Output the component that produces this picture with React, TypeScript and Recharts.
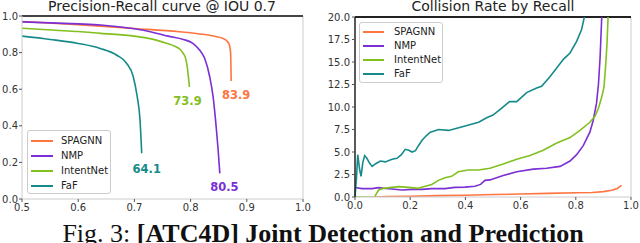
import { LineChart, Line, XAxis, YAxis, Legend, ReferenceLine } from 'recharts';

// [recall, precision] per method
const spagnnPR = [[0.5, 0.97], [0.6, 0.953], [0.7, 0.932], [0.78, 0.914], [0.816, 0.902], [0.846, 0.887], [0.857, 0.878], [0.865, 0.862], [0.869, 0.842], [0.8712, 0.8], [0.8718, 0.72], [0.8722, 0.645]];
const nmpPR = [[0.5, 0.968], [0.6, 0.957], [0.64, 0.951], [0.7, 0.93], [0.73, 0.913], [0.76, 0.89], [0.787, 0.872], [0.804, 0.851], [0.816, 0.814], [0.825, 0.769], [0.834, 0.668], [0.84, 0.559], [0.846, 0.377], [0.849, 0.268], [0.852, 0.14]];
const intentNetPR = [[0.5, 0.933], [0.56, 0.922], [0.6, 0.915], [0.64, 0.905], [0.7, 0.89], [0.73, 0.875], [0.757, 0.851], [0.772, 0.835], [0.781, 0.818], [0.787, 0.795], [0.791, 0.77], [0.794, 0.723], [0.796, 0.67], [0.798, 0.612]];
const fafPR = [[0.5, 0.89], [0.55, 0.872], [0.6, 0.85], [0.639, 0.823], [0.668, 0.787], [0.686, 0.742], [0.698, 0.668], [0.705, 0.559], [0.71, 0.432], [0.713, 0.25]];

// [recall, collision rate]
const spagnnCR = [[0.07, 0], [0.12, 0.05], [0.2, 0.08], [0.3, 0.15], [0.4, 0.2], [0.5, 0.27], [0.6, 0.33], [0.7, 0.4], [0.8, 0.47], [0.86, 0.5], [0.9, 0.6], [0.93, 0.75], [0.95, 0.95], [0.966, 1.3]];
const nmpCR = [[0, 1.05], [0.025, 0.93], [0.062, 0.93], [0.086, 1.04], [0.11, 0.95], [0.134, 0.89], [0.17, 0.78], [0.207, 0.85], [0.243, 0.85], [0.278, 0.93], [0.326, 0.93], [0.362, 1.07], [0.398, 1.1], [0.435, 1.2], [0.455, 1.4], [0.471, 1.85], [0.489, 1.9], [0.537, 2.4], [0.586, 2.8], [0.646, 3.1], [0.694, 3.2], [0.743, 3.4], [0.779, 4.0], [0.803, 4.7], [0.827, 5.7], [0.851, 7.2], [0.863, 8.5], [0.875, 10.4], [0.882, 12.5], [0.888, 15.5], [0.894, 20]];
const intentNetCR = [[0, 0], [0.071, 0], [0.078, 0.4], [0.086, 0.78], [0.104, 0.96], [0.134, 1.07], [0.158, 1.15], [0.194, 1.07], [0.23, 0.96], [0.248, 1.15], [0.278, 1.4], [0.302, 1.85], [0.326, 2.15], [0.35, 2.3], [0.374, 2.8], [0.41, 3.0], [0.447, 3.0], [0.489, 3.2], [0.537, 3.67], [0.586, 4.2], [0.634, 4.6], [0.682, 5.2], [0.731, 6.0], [0.779, 6.6], [0.815, 7.4], [0.851, 8.3], [0.87, 9.0], [0.882, 9.85], [0.894, 11.1], [0.902, 12.2], [0.908, 14.5], [0.913, 17], [0.917, 20]];
const fafCR = [[0, 0], [0.005, 2], [0.01, 4.7], [0.017, 3.0], [0.022, 2.3], [0.028, 3.8], [0.035, 4.6], [0.043, 4.3], [0.052, 3.8], [0.062, 3.4], [0.075, 3.7], [0.092, 4.0], [0.11, 3.9], [0.134, 4.2], [0.152, 4.3], [0.168, 4.7], [0.182, 5.3], [0.195, 5.2], [0.207, 5.0], [0.219, 5.15], [0.23, 5.7], [0.243, 6.3], [0.258, 6.8], [0.273, 7.2], [0.303, 7.5], [0.339, 7.4], [0.376, 7.7], [0.412, 8.0], [0.448, 8.3], [0.477, 8.8], [0.5, 9.1], [0.525, 9.7], [0.56, 10.6], [0.586, 10.6], [0.622, 11.6], [0.658, 12.1], [0.676, 12.3], [0.707, 13.4], [0.73, 14.3], [0.755, 15.3], [0.779, 16.0], [0.803, 17.3], [0.821, 18.6], [0.831, 20]];

const methods = ['SPAGNN', 'NMP', 'IntentNet', 'FaF'];
const apLabels = ['83.9', '80.5', '73.9', '64.1'];
const prTicksX = [0.5, 0.6, 0.7, 0.8, 0.9, 1.0];
const prTicksY = [0, 0.2, 0.4, 0.6, 0.8, 1.0];
const crTicksX = [0, 0.2, 0.4, 0.6, 0.8, 1.0];
const crTicksY = [0, 2.5, 5, 7.5, 10, 12.5, 15, 17.5, 20];

const COLORS = ['#ff7540', '#7b2fd4', '#82c020', '#168a8a'];
const labelOffsets = [[5, 18.5], [4.5, 17.7], [-2, 18.3], [5, 20]];

const toPts = (arr: number[][]) => arr.map(([x, y]) => ({ x, y }));
const prSeries = [spagnnPR, nmpPR, intentNetPR, fafPR].map(toPts);
const crSeries = [spagnnCR, nmpCR, intentNetCR, fafCR].map(toPts);

const tickFont = { fontFamily: 'DejaVu Sans', fontSize: 10, fill: '#333' };

// legend rows kept in the methods order, whatever order recharts hands them over
const LegendBox = ({ payload, rowH, padTop, lineW, textX, width, height, fontSize }: any) => {
  const items = methods.map((m) => (payload || []).find((p: any) => p.value === m)).filter(Boolean);
  return (
    <div style={{ width, height, boxSizing: 'border-box', border: '1px solid #ccc', borderRadius: 3, background: 'rgba(255,255,255,0.85)', position: 'relative', fontFamily: 'DejaVu Sans', fontSize, color: '#222' }}>
      {items.map((p: any, i: number) => (
        <div key={p.value} style={{ position: 'absolute', left: 0, top: padTop + i * rowH - 7, height: 14, display: 'flex', alignItems: 'center' }}>
          <svg width={textX} height={14} style={{ display: 'block' }}>
            <line x1={3} x2={3 + lineW} y1={7} y2={7} stroke={p.color} strokeWidth={2} />
          </svg>
          <span style={{ lineHeight: '14px', whiteSpace: 'nowrap' }}>{p.value}</span>
        </div>
      ))}
    </div>
  );
};

const endLabel = (i: number) => (props: any) => {
  const { x, y, index } = props;
  if (index !== prSeries[i].length - 1) return <g key={`l-${i}-${index}`} />;
  return (
    <text key={`l-${i}-${index}`} x={x + labelOffsets[i][0]} y={y + labelOffsets[i][1]} textAnchor="middle" fill={COLORS[i]} fontFamily="DejaVu Sans" fontSize={11.5} fontWeight="bold">
      {apLabels[i]}
    </text>
  );
};

export default function App() {
  return (
    <div style={{ position: 'absolute', left: 0, top: 0, width: 640, height: 243, background: '#fff', overflow: 'hidden' }}>
      <div style={{ position: 'absolute', left: 0, top: 0 }}>
        <LineChart width={320} height={243} margin={{ top: 16, right: 17, bottom: 24, left: 0 }}>
          <XAxis dataKey="x" type="number" domain={[0.5, 1]} ticks={prTicksX} tickFormatter={(v: number) => v.toFixed(1)} height={20} tick={tickFont} tickSize={3} tickMargin={2} axisLine={{ stroke: '#ccc' }} tickLine={{ stroke: '#555' }} allowDataOverflow />
          <YAxis type="number" domain={[0, 1]} ticks={prTicksY} tickFormatter={(v: number) => v.toFixed(1)} width={22} tick={tickFont} tickSize={3} tickMargin={1} axisLine={{ stroke: '#ccc' }} tickLine={{ stroke: '#555' }} />
          <ReferenceLine x={1} stroke="#ccc" />
          <ReferenceLine y={1} stroke="#444" strokeWidth={2} />
          {methods.map((m, i) => (
            <Line key={m} name={m} data={prSeries[i]} dataKey="y" type="monotoneX" stroke={COLORS[i]} strokeWidth={1.6} dot={false} legendType="plainline" isAnimationActive={false} label={endLabel(i)} />
          ))}
          <Legend layout="vertical" align="center" verticalAlign="middle" wrapperStyle={{ left: 27, top: 130, width: 84, height: 64 }}
            content={(p: any) => <LegendBox payload={p.payload} rowH={15} padTop={10} lineW={22} textX={33} width={84} height={64} fontSize={10} />} />
        </LineChart>
      </div>
      <div style={{ position: 'absolute', left: 320, top: 0 }}>
        <LineChart width={320} height={243} margin={{ top: 17, right: 9, bottom: 26, left: 0 }}>
          <XAxis dataKey="x" type="number" domain={[0, 1]} ticks={crTicksX} tickFormatter={(v: number) => v.toFixed(1)} height={20} tick={tickFont} tickSize={3} tickMargin={2} axisLine={{ stroke: '#ccc' }} tickLine={{ stroke: '#555' }} />
          <YAxis type="number" domain={[0, 20]} ticks={crTicksY} tickFormatter={(v: number) => v.toFixed(1)} width={35} tick={tickFont} tickSize={3} tickMargin={2} axisLine={{ stroke: '#222', strokeWidth: 1.5 }} tickLine={{ stroke: '#555' }} allowDataOverflow />
          <ReferenceLine x={1} stroke="#ccc" />
          <ReferenceLine y={20} stroke="#222" strokeWidth={2} />
          {methods.map((m, i) => (
            <Line key={m} name={m} data={crSeries[i]} dataKey="y" type="linear" stroke={COLORS[i]} strokeWidth={1.6} dot={false} legendType="plainline" isAnimationActive={false} />
          ))}
          <Legend layout="vertical" align="center" verticalAlign="middle" wrapperStyle={{ left: 39, top: 22, width: 84, height: 61 }}
            content={(p: any) => <LegendBox payload={p.payload} rowH={14} padTop={9} lineW={21} textX={34} width={84} height={61} fontSize={10} />} />
        </LineChart>
      </div>
      <svg width={640} height={243} style={{ position: 'absolute', left: 0, top: 0, pointerEvents: 'none' }}>
        <text x={162} y={11} textAnchor="middle" fontFamily="DejaVu Sans" fontSize={14} fill="#222">Precision-Recall curve @ IOU 0.7</text>
        <text x={493} y={11} textAnchor="middle" fontFamily="DejaVu Sans" fontSize={14} fill="#222">Collision Rate by Recall</text>
        <text x={323} y={242} textAnchor="middle" fontFamily="Liberation Serif" fontSize={26} fill="#111">
          <tspan>Fig. 3: </tspan>
          <tspan fontWeight="bold">[ATC4D] Joint Detection and Prediction</tspan>
        </text>
      </svg>
    </div>
  );
}
